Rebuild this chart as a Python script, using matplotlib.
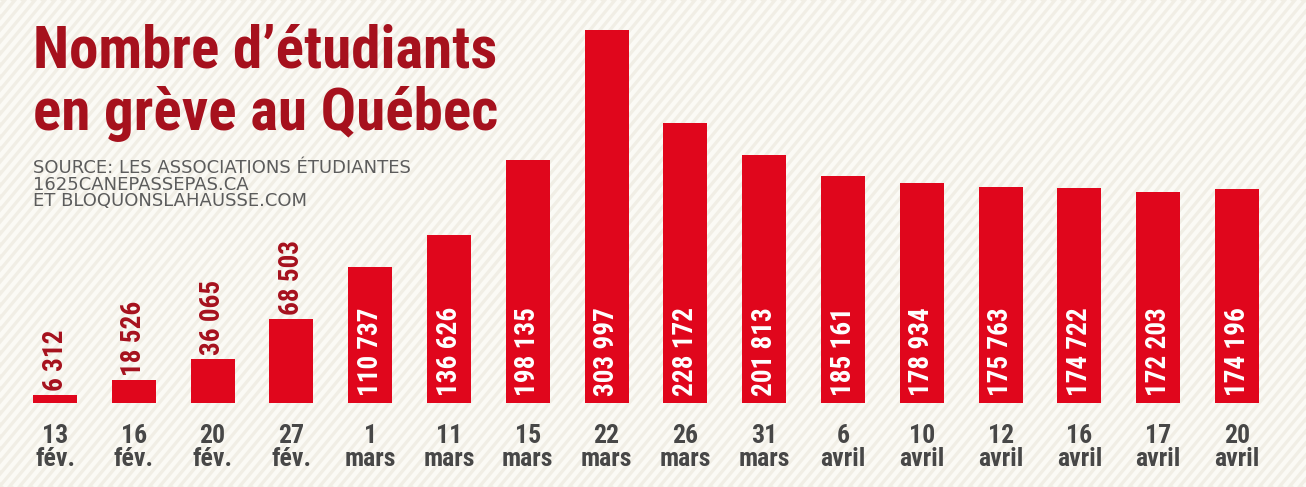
import numpy as np
import matplotlib
matplotlib.use("Agg")
import matplotlib.pyplot as plt
from matplotlib import font_manager
from matplotlib.collections import LineCollection

# Données
jours = ["13", "16", "20", "27", "1", "11", "15", "22", "26", "31", "6", "10", "12", "16", "17", "20"]
mois = ["fév.", "fév.", "fév.", "fév.", "mars", "mars", "mars", "mars", "mars", "mars",
        "avril", "avril", "avril", "avril", "avril", "avril"]
etudiants = [6312, 18526, 36065, 68503, 110737, 136626, 198135, 303997, 228172, 201813,
             185161, 178934, 175763, 174722, 172203, 174196]

titre = "Nombre d\u2019étudiants\nen grève au Québec"
source = "SOURCE: LES ASSOCIATIONS ÉTUDIANTES\n1625CANEPASSEPAS.CA\nET BLOQUONSLAHAUSSE.COM"

ROUGE = "#e0061c"
ROUGE_FONCE = "#a6111d"
GRIS = "#474747"
FOND = "#f1eee5"


def choisir_police(noms):
    for nom in noms:
        try:
            font_manager.findfont(font_manager.FontProperties(family=nom), fallback_to_default=False)
            return nom
        except ValueError:
            pass
    return "DejaVu Sans"


etroite = choisir_police(["Roboto Condensed", "Liberation Sans Narrow", "Open Sans Condensed", "DejaVu Sans"])

W, H = 1306, 487
fig = plt.figure(figsize=(W / 100, H / 100), dpi=100)
fig.patch.set_facecolor(FOND)

# Fond rayé
fond = fig.add_axes([0, 0, 1, 1])
fond.set_xlim(0, W)
fond.set_ylim(H, 0)
fond.axis("off")
pente = 1.2
x0 = np.arange(-H / pente, W + 20, 10)
segments = [[(x, H), (x + H / pente, 0)] for x in x0]
fond.add_collection(LineCollection(segments, colors="#fbfaf5", linewidths=3.2))

# Barres
px_par_etudiant = 1.228 / 1000
base_px = 403
ax = fig.add_axes([15.6 / W, (H - base_px) / H, (1276.4 - 15.6) / W, base_px / H])
ax.patch.set_alpha(0)
n = len(etudiants)
x = np.arange(n)
ax.bar(x, etudiants, width=0.56, color=ROUGE)
ax.set_xlim(-0.5, n - 0.5)
ax.set_ylim(0, base_px / px_par_etudiant)
for s in ax.spines.values():
    s.set_visible(False)
ax.set_yticks([])
ax.set_xticks(x)
ax.set_xticklabels([f"{j}\n{m}" for j, m in zip(jours, mois)], fontfamily=etroite,
                   fontweight="bold", fontsize=18.5, color=GRIS, linespacing=0.95)
ax.tick_params(axis="x", length=0, pad=15)


def format_nombre(v):
    return f"{v:,}".replace(",", " ")


for xi, v in zip(x, etudiants):
    if v > 100000:
        ax.annotate(format_nombre(v), (xi, 0), xytext=(0, 5), textcoords="offset points",
                    rotation=90, ha="center", va="bottom", color="white",
                    fontfamily=etroite, fontweight="bold", fontsize=19.5)
    else:
        ax.annotate(format_nombre(v), (xi, v), xytext=(0, 3), textcoords="offset points",
                    rotation=90, ha="center", va="bottom", color=ROUGE_FONCE,
                    fontfamily=etroite, fontweight="bold", fontsize=19.5)

# Titre et source
fig.text(33 / W, 1 - 23 / H, titre, ha="left", va="top", color=ROUGE_FONCE,
         fontfamily=etroite, fontweight="bold", fontsize=42.5, linespacing=1.15)
fig.text(33 / W, 1 - 159 / H, source, ha="left", va="top", color="#5c5c5c",
         fontfamily="DejaVu Sans", fontsize=13, linespacing=0.9)

fig.savefig("out.png", dpi=100, facecolor=FOND)
